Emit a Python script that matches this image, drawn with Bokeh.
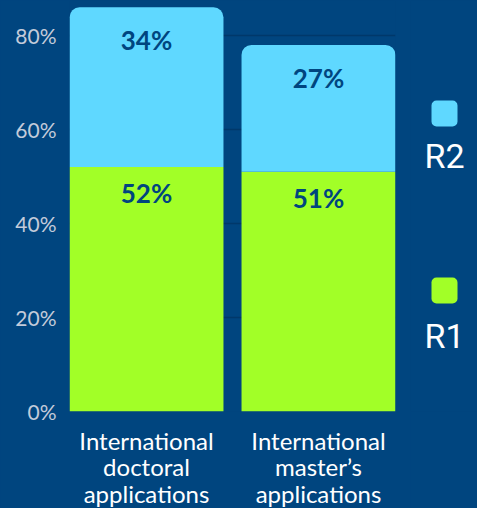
from bokeh.plotting import figure
from bokeh.models import Range1d, FixedTicker, ColumnDataSource
from bokeh.layouts import row
from bokeh.core.properties import value
from bokeh.embed import file_html
from bokeh.resources import INLINE

categories = ["International\ndoctoral\napplications", "International\nmaster\u2019s\napplications"]
r1_values = [52, 51]
r2_values = [34, 27]
series_names = ["R1", "R2"]
y_ticks = [0, 20, 40, 60, 80]

BG = "#00457F"
GRID = "#00386A"
C_R1 = "#A2FF27"
C_R2 = "#5FD8FF"
LABEL = "#00457F"

xs = list(range(len(categories)))
r2_bottom = list(r1_values)
r2_top = [a + b for a, b in zip(r1_values, r2_values)]

p = figure(frame_width=326, frame_height=411, output_backend="svg", toolbar_location=None,
           x_range=Range1d(-0.4477, 1.4477), y_range=Range1d(0, 87.45),
           min_border_left=69, min_border_right=15, min_border_top=0, min_border_bottom=97,
           background_fill_color=BG, border_fill_color=BG, outline_line_color=None)

p.xgrid.visible = False
p.ygrid.ticker = FixedTicker(ticks=y_ticks)
p.ygrid.grid_line_color = GRID
p.ygrid.grid_line_width = 1.5

src = ColumnDataSource(dict(x=xs, r1=r1_values, r2b=r2_bottom, r2t=r2_top,
                            r1lab=[f"{v}%" for v in r1_values],
                            r2lab=[f"{v}%" for v in r2_values]))

p.vbar(x="x", bottom=0, top="r1", width=0.895, source=src, fill_color=C_R1, line_color=None)
p.vbar(x="x", bottom="r2b", top="r2t", width=0.895, source=src, fill_color=C_R2, line_color=None,
       border_radius=(10, 10, 0, 0))

p.text(x="x", y="r1", text="r1lab", source=src, y_offset=26, text_align="center",
       text_baseline="middle", text_font=value("Lato"), text_font_style="bold",
       text_font_size="26px", text_color=LABEL)
p.text(x="x", y="r2t", text="r2lab", source=src, y_offset=33, text_align="center",
       text_baseline="middle", text_font=value("Lato"), text_font_style="bold",
       text_font_size="26px", text_color=LABEL)

p.yaxis.ticker = FixedTicker(ticks=y_ticks)
p.yaxis.major_label_overrides = {t: f"{t}%" for t in y_ticks}
p.yaxis.axis_line_color = None
p.yaxis.major_tick_line_color = None
p.yaxis.minor_tick_line_color = None
p.yaxis.major_label_text_font = "Lato"
p.yaxis.major_label_text_font_size = "21px"
p.yaxis.major_label_text_color = "#C3CBDA"
p.yaxis.major_label_standoff = 7

p.xaxis.ticker = FixedTicker(ticks=xs)
p.xaxis.major_label_overrides = {i: c for i, c in zip(xs, categories)}
p.xaxis.axis_line_color = None
p.xaxis.major_tick_line_color = None
p.xaxis.minor_tick_line_color = None
p.xaxis.major_label_text_font = "Lato"
p.xaxis.major_label_text_font_size = "24px"
p.xaxis.major_label_text_color = "#FFFFFF"
p.xaxis.major_label_standoff = 8
p.xaxis.major_label_text_line_height = 0.93

# legend panel
lg = figure(frame_width=67, frame_height=411, output_backend="svg", toolbar_location=None,
            x_range=Range1d(0, 67), y_range=Range1d(411, 0),
            min_border_left=0, min_border_right=0, min_border_top=0, min_border_bottom=97,
            background_fill_color=BG, border_fill_color=BG, outline_line_color=None,
            x_axis_location=None, y_axis_location=None)
lg.grid.visible = False
leg = ColumnDataSource(dict(x=[34, 34], y=[290, 113], ty=[335, 155],
                            name=series_names, color=[C_R1, C_R2]))
lg.rect(x="x", y="y", width=26, height=26, source=leg, fill_color="color", line_color=None,
        border_radius=5)
lg.text(x="x", y="ty", text="name", source=leg, text_align="center", text_baseline="middle",
        text_font=value("Roboto"), text_font_size="34px", text_color="#FFFFFF")

layout = row(p, lg, spacing=0)
layout.styles = {"background-color": BG}

open("out.html", "w").write(file_html(layout, INLINE))
